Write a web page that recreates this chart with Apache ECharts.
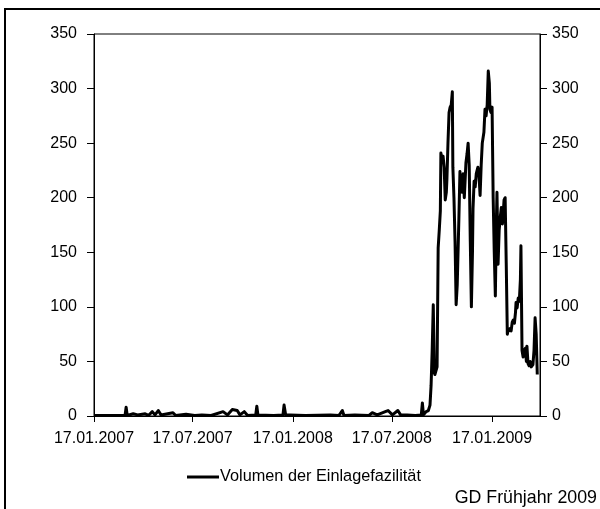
<!DOCTYPE html>
<html>
<head>
<meta charset="utf-8">
<script src="https://cdn.jsdelivr.net/npm/echarts@6/dist/echarts.min.js"></script>
<style>
  html, body { margin: 0; padding: 0; background: #fff; }
  #chart { width: 600px; height: 509px; }
</style>
</head>
<body>
<div id="chart"></div>
<script>
// Volumen der Einlagefazilität (Mrd. Euro), Tageswerte
const dates = [
  '2007-01-17','2007-02-16','2007-03-15','2007-03-17','2007-03-19','2007-03-30','2007-04-07','2007-04-21',
  '2007-04-27','2007-05-04','2007-05-09','2007-05-15','2007-05-20','2007-06-11','2007-06-16','2007-07-05',
  '2007-07-21','2007-08-03','2007-08-20','2007-09-11','2007-09-19','2007-09-28','2007-10-07','2007-10-12',
  '2007-10-20','2007-10-26','2007-11-10','2007-11-12','2007-11-14','2007-12-13','2007-12-30','2008-01-01',
  '2008-01-04','2008-01-12','2008-02-09','2008-03-26','2008-04-11','2008-04-17','2008-04-20','2008-05-10',
  '2008-06-05','2008-06-11','2008-06-20','2008-07-05','2008-07-10','2008-07-18','2008-07-28','2008-08-02',
  '2008-08-14','2008-08-29','2008-09-09','2008-09-11','2008-09-13','2008-09-18','2008-09-22','2008-09-25',
  '2008-09-27','2008-09-29','2008-10-01','2008-10-03','2008-10-04','2008-10-08','2008-10-10','2008-10-12',
  '2008-10-14','2008-10-15','2008-10-17','2008-10-19','2008-10-21','2008-10-23','2008-10-25','2008-10-26',
  '2008-10-28','2008-10-30','2008-11-01','2008-11-03','2008-11-05','2008-11-06','2008-11-08','2008-11-10',
  '2008-11-12','2008-11-14','2008-11-17','2008-11-19','2008-11-21','2008-11-23','2008-11-25','2008-11-27',
  '2008-11-30','2008-12-02','2008-12-04','2008-12-06','2008-12-08','2008-12-10','2008-12-12','2008-12-13',
  '2008-12-15','2008-12-17','2008-12-19','2008-12-22','2008-12-24','2008-12-26','2008-12-28','2008-12-30',
  '2009-01-02','2009-01-04','2009-01-06','2009-01-08','2009-01-10','2009-01-12','2009-01-13','2009-01-15',
  '2009-01-17','2009-01-19','2009-01-21','2009-01-23','2009-01-25','2009-01-26','2009-01-28','2009-01-30',
  '2009-02-01','2009-02-03','2009-02-05','2009-02-07','2009-02-08','2009-02-10','2009-02-12','2009-02-14',
  '2009-02-16','2009-02-17','2009-02-19','2009-02-21','2009-02-23','2009-02-25','2009-02-27','2009-03-01',
  '2009-03-02','2009-03-04','2009-03-06','2009-03-08','2009-03-10','2009-03-11','2009-03-13','2009-03-15',
  '2009-03-17','2009-03-19','2009-03-21','2009-03-22','2009-03-24','2009-03-26','2009-03-28','2009-03-30',
  '2009-04-02','2009-04-04','2009-04-06','2009-04-08','2009-04-10'
];
const volume = [
  0.5, 0.5, 0.5, 8, 0.5, 2, 1, 2,
  0.5, 4, 1, 5, 1, 3, 0.5, 1.5,
  0.5, 1, 0.5, 4, 1, 6, 5, 1,
  4, 0.5, 1, 9, 1, 0.5, 1, 10,
  1, 1, 0.5, 1, 0.5, 5, 0.5, 1,
  0.5, 3, 1, 4, 5, 1, 5, 1,
  1, 0.5, 1, 12, 1, 4, 5, 10,
  28, 60, 102, 40, 38, 45, 154, 170,
  188, 241, 235, 238, 228, 198, 205, 216,
  250, 278, 283, 285, 297, 228, 200, 160,
  102, 120, 180, 224, 212, 205, 222, 200,
  232, 240, 250, 230, 160, 100, 150, 190,
  215, 210, 222, 228, 220, 202, 230, 250,
  260, 281, 275, 285, 316, 305, 281, 278,
  283, 200, 150, 110, 180, 205, 139, 170,
  182, 191, 176, 190, 198, 200, 140, 75,
  80, 78, 80, 78, 86, 88, 85, 95,
  104, 99, 108, 105, 125, 156, 60, 54,
  60, 62, 50, 64, 48, 46, 50, 45,
  47, 60, 90, 75, 38
];

// Achsenbeschriftung
const tickDates = ['2007-01-17', '2007-07-17', '2008-01-17', '2008-07-17', '2009-01-17'];
const tickLabels = ['17.01.2007', '17.07.2007', '17.01.2008', '17.07.2008', '17.01.2009'];
const axisStart = '2007-01-17';
const axisEnd = '2009-04-15';
const yTicks = [0, 50, 100, 150, 200, 250, 300, 350];

const seriesName = 'Volumen der Einlagefazilität';
const sourceNote = 'GD Frühjahr 2009';

const t0 = Date.UTC(2007, 0, 17);
function dayOffset(s) {
  const p = s.split('-').map(Number);
  return Math.round((Date.UTC(p[0], p[1] - 1, p[2]) - t0) / 86400000);
}

const tickPos = tickDates.map(dayOffset);
const labelByPos = {};
tickPos.forEach((p, i) => { labelByPos[p] = tickLabels[i]; });
const seriesData = dates.map((d, i) => [dayOffset(d), volume[i]]);

const FONT = 'Liberation Sans, Arial, sans-serif';
const txt = { color: '#000', fontFamily: FONT, fontSize: 16 };

function yAxisDef(position, margin) {
  return {
    type: 'value',
    position: position,
    min: yTicks[0],
    max: yTicks[yTicks.length - 1],
    interval: 50,
    axisLine: { show: true, lineStyle: { color: '#000', width: 1 } },
    axisTick: { show: true, inside: false, length: 7, lineStyle: { color: '#000' } },
    axisLabel: Object.assign({ margin: margin }, txt),
    splitLine: { show: false }
  };
}

const chart = echarts.init(document.getElementById('chart'), null, { renderer: 'canvas' });
chart.setOption({
  animation: false,
  backgroundColor: '#fff',
  grid: {
    left: 94, right: 60, top: 34, bottom: 93,
    show: true, borderColor: '#000', borderWidth: 1, backgroundColor: 'transparent'
  },
  xAxis: {
    type: 'value',
    min: dayOffset(axisStart),
    max: dayOffset(axisEnd),
    axisLine: { show: true, lineStyle: { color: '#000', width: 1 } },
    axisTick: { show: true, length: 6, customValues: tickPos, lineStyle: { color: '#000' } },
    axisLabel: Object.assign({
      margin: 15,
      customValues: tickPos,
      formatter: v => labelByPos[v] || ''
    }, txt),
    splitLine: { show: false }
  },
  yAxis: [yAxisDef('left', 17), yAxisDef('right', 12)],
  legend: {
    show: true,
    data: [seriesName],
    left: 182, top: 464,
    icon: 'rect', itemWidth: 32, itemHeight: 3, itemGap: 0,
    textStyle: Object.assign({ padding: [0, 0, 0, -4] }, txt, { fontSize: 16.3 })
  },
  series: [{
    name: seriesName,
    type: 'line',
    yAxisIndex: 0,
    data: seriesData,
    showSymbol: false,
    symbol: 'none',
    lineStyle: { color: '#000', width: 3, join: 'round' },
    itemStyle: { color: '#000' },
    clip: true
  }],
  graphic: [
    {
      type: 'rect', silent: true,
      shape: { x: 5, y: 9, width: 610, height: 520 },
      style: { fill: 'none', stroke: '#000', lineWidth: 2 }
    },
    {
      type: 'text', silent: true, right: 3, top: 489,
      style: { text: sourceNote, fill: '#000', font: '17.8px ' + FONT }
    }
  ]
});
</script>
</body>
</html>
